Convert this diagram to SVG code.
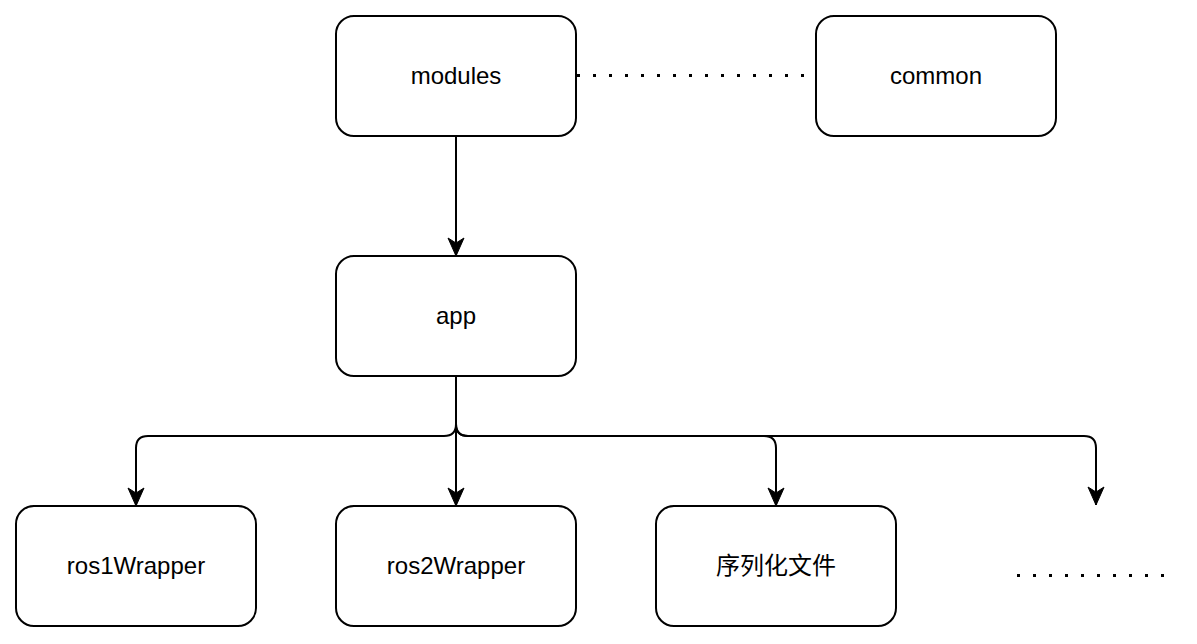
<svg xmlns="http://www.w3.org/2000/svg" width="1197" height="644" viewBox="0 0 1197 644">
<style>
.box{fill:#fff;stroke:#000;stroke-width:2}
.lbl{font-family:"Liberation Sans","Noto Sans CJK SC",Arial,sans-serif;font-size:24px;fill:#000;text-anchor:middle}
.edge{fill:none;stroke:#000;stroke-width:2}
.dot{fill:none;stroke:#000;stroke-width:3;stroke-dasharray:3 13}
</style>
<defs>
<marker id="arr" viewBox="-1 -10 20 20" refX="18" refY="0" markerWidth="20" markerHeight="20" markerUnits="userSpaceOnUse" orient="auto">
<path d="M0,-8 L18,0 L0,8 L5,0 Z" fill="#000" stroke="#000" stroke-width="1"/>
</marker>
</defs>
<rect width="1197" height="644" fill="#fff"/>
<g id="connectors">
<path class="dot" d="M577 75.5 L816 75.5"/>
<path class="edge" d="M456 136 L456 256" marker-end="url(#arr)"/>
<path class="edge" d="M456 376 L456 424 Q456 436 444 436 L148 436 Q136 436 136 448 L136 506" marker-end="url(#arr)"/>
<path class="edge" d="M456 376 L456 506" marker-end="url(#arr)"/>
<path class="edge" d="M456 376 L456 424 Q456 436 468 436 L764 436 Q776 436 776 448 L776 506" marker-end="url(#arr)"/>
<path class="edge" d="M456 376 L456 424 Q456 436 468 436 L1084 436 Q1096 436 1096 448 L1096 505" marker-end="url(#arr)"/>
<path class="dot" d="M1017 575.5 L1166 575.5"/>
</g>
<g id="modules"><rect class="box" x="336" y="16" width="240" height="120" rx="18"/><text class="lbl" x="456" y="84">modules</text></g>
<g id="common"><rect class="box" x="816" y="16" width="240" height="120" rx="18"/><text class="lbl" x="936" y="84">common</text></g>
<g id="app"><rect class="box" x="336" y="256" width="240" height="120" rx="18"/><text class="lbl" x="456" y="324">app</text></g>
<g id="ros1Wrapper"><rect class="box" x="16" y="506" width="240" height="120" rx="18"/><text class="lbl" x="136" y="574">ros1Wrapper</text></g>
<g id="ros2Wrapper"><rect class="box" x="336" y="506" width="240" height="120" rx="18"/><text class="lbl" x="456" y="574">ros2Wrapper</text></g>
<g id="serialize"><rect class="box" x="656" y="506" width="240" height="120" rx="18"/><text class="lbl" x="776" y="574">序列化文件</text></g>
</svg>
